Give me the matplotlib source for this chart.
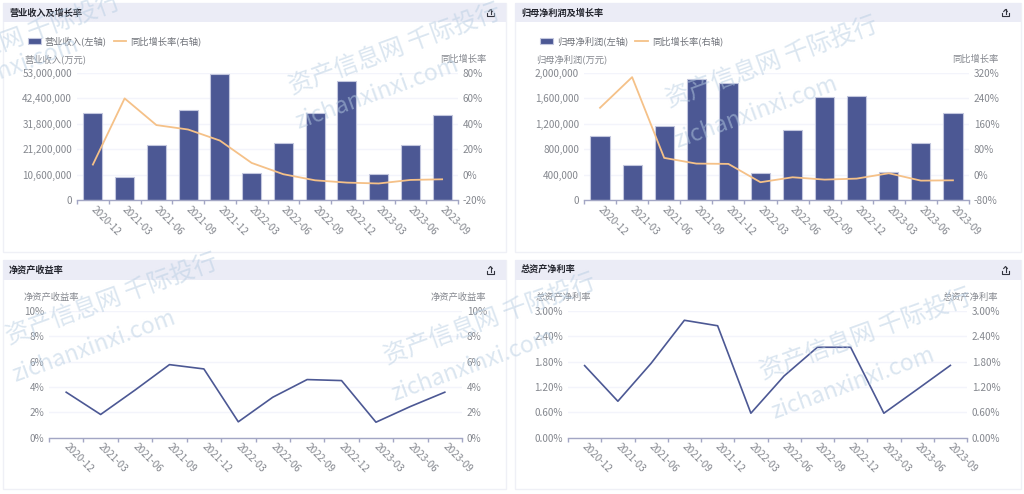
"""
财务指标四宫格图：营业收入、归母净利润（柱+折线），净资产收益率、总资产净利率（折线）。
输出：out.png
"""

import matplotlib

matplotlib.use("Agg")
import matplotlib.pyplot as plt
from matplotlib.patches import Rectangle
from matplotlib.ticker import FixedLocator
from matplotlib.transforms import ScaledTranslation

plt.rcParams["font.family"] = ["Noto Sans CJK SC", "DejaVu Sans"]

periods = ["2020-12", "2021-03", "2021-06", "2021-09", "2021-12", "2022-03",
           "2022-06", "2022-09", "2022-12", "2023-03", "2023-06", "2023-09"]

revenue = [36260000, 9480000, 23150000, 37660000, 52440000, 11440000,
           23710000, 36260000, 49650000, 10740000, 22870000, 35430000]
revenue_growth = [7.9, 60, 39, 35.5, 26.8, 9.2, 0.3, -4.5, -6.3, -7, -4.2, -3.7]
revenue_ticks = [0, 10600000, 21200000, 31800000, 42400000, 53000000]
revenue_growth_ticks = [-20, 0, 20, 40, 60, 80]

profit = [1015000, 547000, 1168000, 1905000, 1847000, 426000,
          1095000, 1621000, 1642000, 442000, 900000, 1368000]
profit_growth = [210.5, 307, 52.6, 34.7, 33.7, -24, -8.4, -15.8, -12.6, 4.2, -19, -18]
profit_ticks = [0, 400000, 800000, 1200000, 1600000, 2000000]
profit_growth_ticks = [-80, 0, 80, 160, 240, 320]

roe = [3.58, 1.82, 3.75, 5.76, 5.42, 1.24, 3.18, 4.58, 4.5, 1.21, 2.45, 3.58]
roe_ticks = [0, 2, 4, 6, 8, 10]

roa = [1.705, 0.86, 1.76, 2.78, 2.65, 0.576, 1.46, 2.14, 2.14, 0.576, 1.14, 1.71]
roa_ticks = [0, 0.6, 1.2, 1.8, 2.4, 3.0]

W, H = 1024, 494
BAR = "#4c5894"
BAR_EDGE = "#c3c7de"
ORANGE = "#f5c188"
AXIS = "#a3a6c4"
GRID = "#f3f4fb"
TEXT = "#85888f"
HEADER = "#ebecf6"
BORDER = "#eff0f6"
MARK = "#b7cde2"
TICK_SIZE = 7.2

fig = plt.figure(figsize=(W / 100, H / 100), dpi=100, facecolor="white")


def fx(px):
    return px / W


def fy(py):
    return 1 - py / H


def icon_line(xs, ys):
    fig.add_artist(plt.Line2D([fx(v) for v in xs], [fy(v) for v in ys],
                              transform=fig.transFigure, color="#33353f", lw=0.8))


def add_card(left, right, top, bottom, title):
    # 卡片边框、标题栏和下载图标
    fig.add_artist(Rectangle((fx(left), fy(bottom)), (right - left) / W, (bottom - top) / H,
                             transform=fig.transFigure, fc="white", ec=BORDER, lw=1, zorder=-3))
    fig.add_artist(Rectangle((fx(left), fy(top + 19.5)), (right - left) / W, 19.5 / H,
                             transform=fig.transFigure, fc=HEADER, ec="none", zorder=-2))
    fig.text(fx(left + 6), fy(top + 10), title, fontsize=6.6, fontweight="bold",
             color="#23252e", va="center", ha="left")
    ix, iy = right - 15.5, top + 10
    icon_line([ix - 3.5, ix - 3.5, ix + 3.5, ix + 3.5], [iy + 0.5, iy + 3.5, iy + 3.5, iy + 0.5])
    icon_line([ix, ix], [iy - 3.5, iy + 1.5])
    icon_line([ix - 1.8, ix, ix + 1.8], [iy - 1.5, iy - 3.5, iy - 1.5])


def make_axes(left, right, top, bottom):
    ax = fig.add_axes([fx(left), fy(bottom), (right - left) / W, (bottom - top) / H])
    ax.patch.set_alpha(0)
    for side in ["top", "left", "right"]:
        ax.spines[side].set_visible(False)
    ax.spines["bottom"].set_color(AXIS)
    ax.spines["bottom"].set_linewidth(1)
    ax.set_xlim(-0.5, len(periods) - 0.5)
    ax.set_xticks([i for i in range(len(periods))])
    ax.set_xticklabels(periods, rotation=-45, ha="left", va="top",
                       rotation_mode="anchor", fontsize=TICK_SIZE, color=TEXT)
    ax.tick_params(axis="x", length=0, pad=3)
    # 标签整体右移一点，起笔贴近类目中心
    shift = ScaledTranslation(3 / 100, 0, fig.dpi_scale_trans)
    for label in ax.get_xticklabels():
        label.set_transform(label.get_transform() + shift)
    # 刻度线落在类目边界上
    ax.xaxis.set_minor_locator(FixedLocator([i - 0.5 for i in range(len(periods) + 1)]))
    ax.tick_params(axis="x", which="minor", length=3, color=AXIS, width=1)
    return ax


def set_y(ax, ticks, labels):
    ax.set_ylim(ticks[0], ticks[-1])
    ax.set_yticks(ticks)
    ax.set_yticklabels(labels, fontsize=TICK_SIZE, color=TEXT)
    ax.tick_params(axis="y", length=0, pad=3.5)
    ax.grid(axis="y", color=GRID, lw=1)
    ax.set_axisbelow(True)


def right_axis(ax, ticks, labels):
    ax2 = ax.twinx()
    ax2.patch.set_alpha(0)
    for side in ["top", "left", "right", "bottom"]:
        ax2.spines[side].set_visible(False)
    ax2.set_ylim(ticks[0], ticks[-1])
    ax2.set_yticks(ticks)
    ax2.set_yticklabels(labels, fontsize=TICK_SIZE, color=TEXT)
    ax2.tick_params(axis="y", length=0, pad=3.5)
    return ax2


def axis_titles(left, right, top, left_title, right_title, gap=14):
    fig.text(fx(left), fy(top - gap), left_title, fontsize=6.7, color=TEXT, ha="left", va="center")
    fig.text(fx(right), fy(top - gap), right_title, fontsize=6.7, color=TEXT, ha="right", va="center")


def combo_panel(box, values, growth, ticks, growth_ticks, name, tag_x, tag_right):
    left, right, top, bottom = box
    ax = make_axes(left, right, top, bottom)
    set_y(ax, ticks, [f"{t:,}" for t in ticks])
    bars = ax.bar(range(len(periods)), values, width=0.6, color=BAR, edgecolor=BAR_EDGE,
                  linewidth=0.8)
    ax2 = right_axis(ax, growth_ticks, [f"{t}%" for t in growth_ticks])
    line, = ax2.plot(range(len(periods)), growth, color=ORANGE, lw=1.3)
    axis_titles(tag_x, tag_right, top, f"{name}(万元)", "同比增长率")
    fig.legend([bars, line], [f"{name}(左轴)", "同比增长率(右轴)"], ncol=2, frameon=False,
               loc="center left", bbox_to_anchor=(fx(tag_x + 4), fy(41)), fontsize=6.7,
               labelcolor="#6f7279", handlelength=1.35, handleheight=0.6, handletextpad=0.45,
               columnspacing=0.75, borderpad=0, borderaxespad=0)


def line_panel(box, values, ticks, labels, name, tag_x, tag_right):
    left, right, top, bottom = box
    ax = make_axes(left, right, top, bottom)
    set_y(ax, ticks, labels)
    ax.plot(range(len(periods)), values, color=BAR, lw=1.2)
    right_axis(ax, ticks, labels)
    axis_titles(tag_x, tag_right, top, name, name)


add_card(3, 506, 3, 252, "营业收入及增长率")
add_card(515, 1021, 3, 252, "归母净利润及增长率")
add_card(3, 506, 260, 489, "净资产收益率")
add_card(515, 1021, 260, 489, "总资产净利率")

combo_panel((77, 458, 73, 200), revenue, revenue_growth, revenue_ticks, revenue_growth_ticks,
            "营业收入", 24, 486)
combo_panel((584, 969, 73, 200), profit, profit_growth, profit_ticks, profit_growth_ticks,
            "归母净利润", 536, 998)
line_panel((49, 462, 311, 437.5), roe, roe_ticks, [f"{t}%" for t in roe_ticks],
           "净资产收益率", 24, 486)
line_panel((568, 967, 311, 437.5), roa, roa_ticks, [f"{t:.2f}%" for t in roa_ticks],
           "总资产净利率", 536, 998)

# 水印
cn_marks = [(15, 40), (395, 50), (772, 63), (112, 300), (490, 320), (866, 335)]
en_marks = [(-3, 73), (377, 93), (756, 112), (94, 346), (473, 365), (853, 383)]
for x, y in cn_marks:
    fig.text(fx(x), fy(y), "资产信息网 千际投行", fontsize=17.5, color=MARK, alpha=0.5,
             rotation=20, ha="center", va="center", rotation_mode="anchor", zorder=20)
for x, y in en_marks:
    fig.text(fx(x), fy(y), "zichanxinxi.com", fontsize=16.5, color=MARK, alpha=0.5,
             rotation=20, ha="center", va="center", rotation_mode="anchor", zorder=20)

fig.savefig("out.png", dpi=100)
plt.close(fig)
